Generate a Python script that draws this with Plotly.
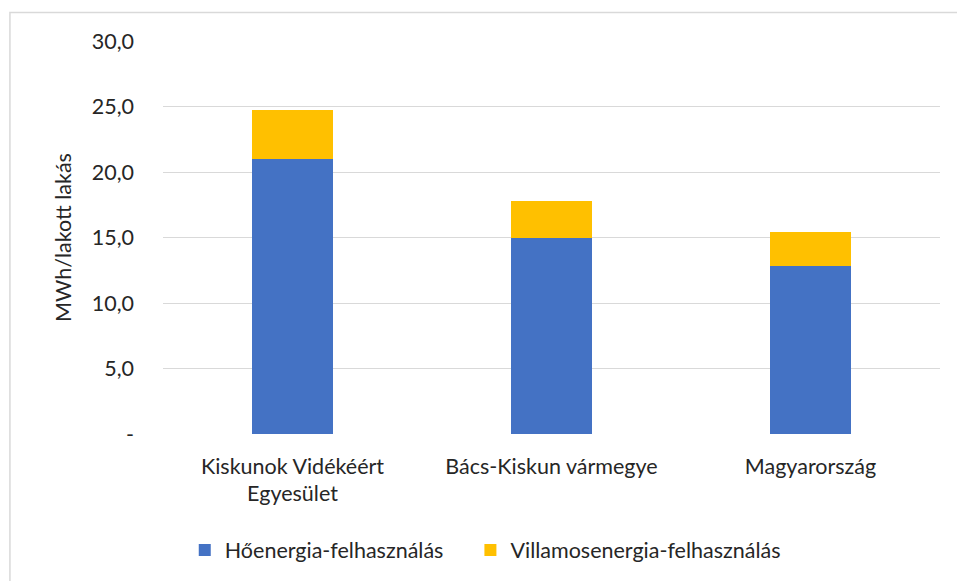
import plotly.graph_objects as go

categories = ["Kiskunok Vidékéért<br>Egyesület", "Bács-Kiskun vármegye", "Magyarország"]
heat = [21.0, 15.0, 12.8]
electric = [3.7, 2.75, 2.65]
tick_vals = [0, 5, 10, 15, 20, 25, 30]
tick_text = ["-", "5,0", "10,0", "15,0", "20,0", "25,0", "30,0"]
series_names = ["Hőenergia-felhasználás", "Villamosenergia-felhasználás"]

font_family = "Lato, Noto Sans, sans-serif"
fs = 21.5
nbsp = "\u00a0" * 4

fig = go.Figure()
fig.add_trace(go.Bar(x=categories, y=heat, name=series_names[0] + nbsp,
                     marker=dict(color="#4472C4", line=dict(width=0))))
fig.add_trace(go.Bar(x=categories, y=electric, name=series_names[1],
                     marker=dict(color="#FFC000", line=dict(width=0))))

fig.update_layout(
    barmode="stack",
    bargap=0.687,
    width=957, height=581,
    margin=dict(l=163, r=17, t=41, b=146),
    paper_bgcolor="white", plot_bgcolor="white",
    font=dict(family=font_family, size=fs, color="#262626"),
    legend=dict(orientation="h", x=0.028, xanchor="left", y=-0.292, yanchor="middle",
                font=dict(size=fs), itemwidth=30, traceorder="normal"),
    xaxis=dict(showgrid=False, showline=False, ticks="", tickfont=dict(size=fs),
               ticklabelstandoff=17),
    yaxis=dict(range=[0, 30], tickvals=tick_vals, ticktext=tick_text,
               showgrid=True, gridcolor="#d9d9d9", gridwidth=1, zeroline=False,
               showline=False, ticks="", ticklabelstandoff=28, tickfont=dict(size=fs),
               title=dict(text="MWh/lakott lakás", font=dict(size=fs), standoff=14)),
    shapes=[dict(type="rect", xref="paper", yref="paper", x0=-0.197, x1=1.2,
                 y0=-0.6, y1=1.0723, line=dict(color="#d9d9d9", width=1.5))],
)

fig.write_html("out.html", config={"displayModeBar": False},
               post_script="document.body.style.margin='0';document.body.style.overflow='hidden';")
